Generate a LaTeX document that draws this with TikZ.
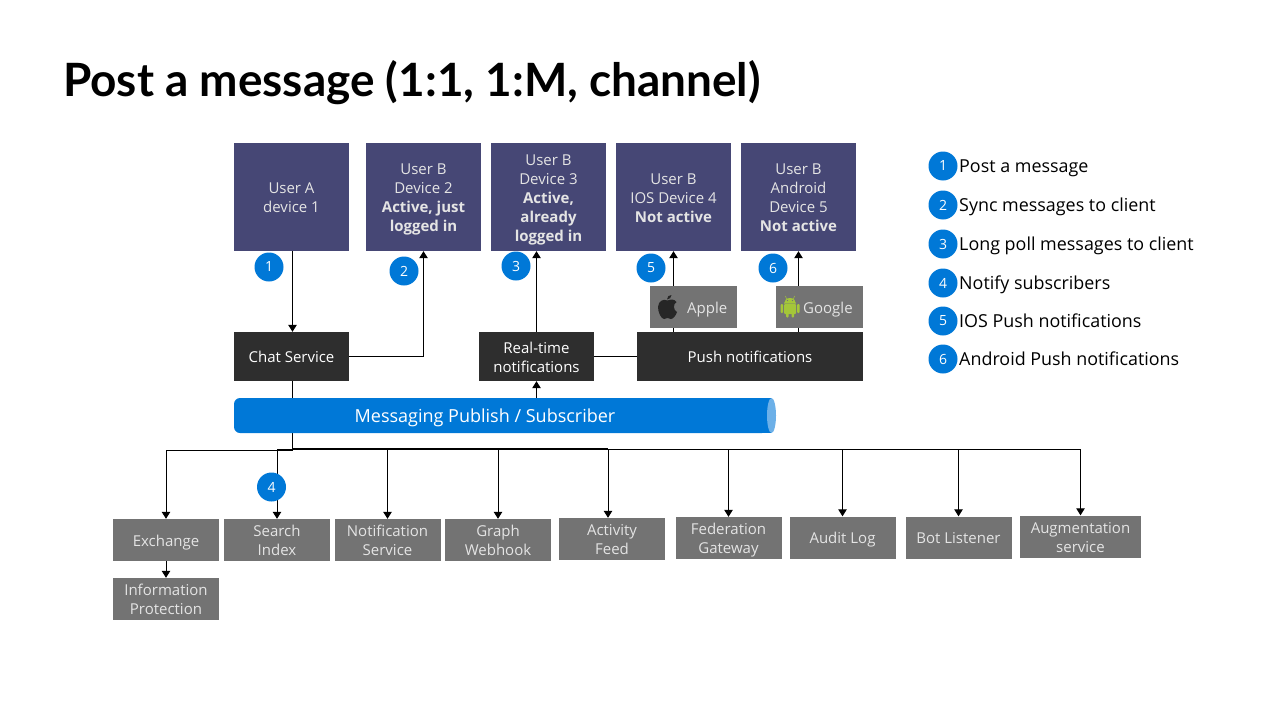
\documentclass[tikz,border=0pt]{standalone}
\usepackage{fontspec}
\setmainfont{Open Sans}
\newfontfamily\titlefont{Lato}
\usepackage{xcolor}
\definecolor{teams-purple}{HTML}{464775}
\definecolor{service-dark}{HTML}{2E2E2E}
\definecolor{store-grey}{HTML}{737373}
\definecolor{label-grey}{HTML}{E4E4E4}
\definecolor{bus-blue}{HTML}{0078D7}
\definecolor{bus-cap}{HTML}{6CB0E8}
\definecolor{android-green}{HTML}{A4C639}
\usetikzlibrary{arrows.meta,backgrounds}
\newcommand{\topgap}{\rule{0pt}{16pt}}
\tikzset{
    box/.style={minimum width=#1, minimum height=42pt, inner sep=0pt, align=center, font=\fontsize{15}{19}\selectfont, execute at begin node={\topgap}, execute at end node={\rule[-4pt]{0pt}{4pt}}},
    userbox/.style={box=115pt, minimum height=108pt, fill=teams-purple, text=label-grey},
    servicebox/.style={box=115pt, minimum height=49pt, fill=service-dark, text=white},
    storebox/.style={box=106pt, fill=store-grey, text=label-grey},
    badge/.style={circle, fill=bus-blue, text=white, minimum size=29pt, inner sep=0pt, font=\fontsize{14}{16}\selectfont},
    legendtext/.style={anchor=base west, inner sep=0pt, text=black, font=\fontsize{17.9}{20}\selectfont},
    vendortext/.style={anchor=base west, inner sep=0pt, text=label-grey, font=\fontsize{15}{19}\selectfont},
    link/.style={draw=black, line width=1pt},
    linkarrow/.style={link, -{Triangle[length=7pt,width=8.5pt]}}
}
\begin{document}
\begin{tikzpicture}[x=1pt, y=-1pt]

    % Canvas
    \useasboundingbox (0, 0) rectangle (1280, 720);

    % Title
    \node (title) [anchor=base west, inner sep=0pt, font=\titlefont\bfseries\fontsize{45.9}{52}\selectfont] at (63, 96) {Post a message (1:1, 1:M, channel)};

    % Devices
    \node (usera) [userbox] at (291.5, 197) {\topgap User A\\device 1};
    \node (userb2) [userbox] at (423.5, 197) {\topgap User B\\Device 2\\\textbf{Active, just}\\\textbf{logged in}};
    \node (userb3) [userbox] at (548.5, 197) {\topgap User B\\Device 3\\\textbf{Active,}\\\textbf{already}\\\textbf{logged in}};
    \node (userb4) [userbox] at (673.5, 197) {\topgap User B\\IOS Device 4\\\textbf{Not active}};
    \node (userb5) [userbox] at (798.5, 197) {\topgap User B\\Android\\Device 5\\\textbf{Not active}};

    % Services
    \node (chat) [servicebox] at (291.5, 356.5) {Chat Service};
    \node (realtime) [servicebox] at (536.5, 356.5) {\topgap Real-time\\notifications};
    \node (push) [servicebox, minimum width=226pt] at (750, 356.5) {Push notifications};

    % Vendors
    \node (apple) [storebox, minimum width=87pt] at (693.5, 307) {};
    \node (google) [storebox, minimum width=87pt] at (819.5, 307) {};
    \node (applelabel) [vendortext] at (687, 313) {Apple};
    \node (googlelabel) [vendortext] at (803, 313) {Google};

    % Apple mark
    \fill[black!85] (667.5, 300.5) .. controls (663, 298.5) and (658.5, 301) .. (658, 307) .. controls (658, 312) and (661, 319) .. (664, 319) .. controls (665.5, 319) and (666, 318) .. (667.5, 318) .. controls (669, 318) and (669.5, 319) .. (671, 319) .. controls (673.5, 319) and (676, 315) .. (677, 312) .. controls (673, 310) and (673, 304) .. (676.5, 302) .. controls (674, 298.5) and (670, 299.5) .. (667.5, 300.5) -- cycle;
    \fill[black!85] (667, 299.5) .. controls (667, 296.5) and (669, 295) .. (671.5, 295) .. controls (671.5, 297.5) and (669.5, 299.5) .. (667, 299.5) -- cycle;

    % Android mark
    \fill[android-green, rounded corners=1pt] (780.5, 304) rectangle (783, 313);
    \fill[android-green, rounded corners=1pt] (797, 304) rectangle (799.5, 313);
    \fill[android-green, rounded corners=1pt] (784, 304) rectangle (796, 314);
    \fill[android-green, rounded corners=1pt] (786, 312) rectangle (788.5, 317.5);
    \fill[android-green, rounded corners=1pt] (791.5, 312) rectangle (794, 317.5);
    \fill[android-green] (784, 303.5) arc[start angle=180, end angle=360, x radius=6, y radius=5.5] -- cycle;
    \draw[android-green, line width=0.6pt] (786.5, 299) -- (785.5, 296) (793.5, 299) -- (794.5, 296);
    \fill[store-grey] (787.5, 300.5) circle (0.7) (792.5, 300.5) circle (0.7);

    % Bus
    \node (bus) [minimum width=534pt, minimum height=35pt, inner sep=0pt, fill=bus-blue, rounded corners=6pt] at (501, 415.5) {};
    \fill[bus-blue] (760, 398) rectangle (771, 433);
    \fill[bus-cap] (771.5, 415.5) ellipse [x radius=4.5, y radius=17.5];
    \node (buslabel) [anchor=base, inner sep=0pt, text=white, font=\fontsize{18}{20}\selectfont] at (485, 422) {Messaging Publish / Subscriber};

    % Stores
    \node (exchange) [storebox] at (166, 540) {Exchange};
    \node (search) [storebox] at (277, 540) {\topgap Search\\Index};
    \node (notification) [storebox] at (387.5, 540) {\topgap Notification\\Service};
    \node (graph) [storebox] at (498, 540) {\topgap Graph\\Webhook};
    \node (activity) [storebox] at (612, 539) {\topgap Activity\\Feed};
    \node (federation) [storebox] at (728.5, 538) {\topgap Federation\\Gateway};
    \node (audit) [storebox] at (842.5, 537.5) {Audit Log};
    \node (bot) [storebox] at (958.5, 537.5) {Bot Listener};
    \node (augmentation) [storebox, minimum width=121pt] at (1080.5, 536.5) {\topgap Augmentation\\service};
    \node (protection) [storebox] at (166, 599) {\topgap Information\\Protection};

    % Connectors
    \coordinate (fanout) at (292.5, 449);
    \begin{scope}[on background layer]
        \draw[linkarrow] ([xshift=1pt]usera.south) -- ([xshift=1pt]chat.north);
        \draw[linkarrow] (chat.east) -| (userb2.south);
        \draw[linkarrow] (realtime.north) -- (realtime.north |- userb3.south);
        \draw[link] (realtime.east) -- (push.west);
        \draw[linkarrow] (bus.south -| realtime) -- (realtime.south);
        \draw[linkarrow] (push.north -| userb4) -- (userb4.south);
        \draw[linkarrow] (push.north -| userb5) -- (userb5.south);
        \draw[link] ([xshift=1pt]chat.south) -- (fanout);
        \draw[linkarrow] (fanout) -- ++(0, 1) -| (exchange.north);
        \foreach \store in {search, notification, graph, federation, audit, bot, augmentation}
            \draw[linkarrow] (fanout) -| (\store.north);
        \draw[linkarrow] (fanout) -| ([xshift=-4pt]activity.north);
        \draw[link, line width=1.8pt] (fanout) -- ([xshift=-4pt]fanout -| activity);
        \draw[linkarrow] (exchange) -- (protection);
    \end{scope}

    % Steps
    \node (step1) [badge] at (269, 267) {1};
    \node (step2) [badge] at (404, 271) {2};
    \node (step3) [badge] at (516, 266) {3};
    \node (step4) [badge] at (271.5, 487) {4};
    \node (step5) [badge] at (651, 268) {5};
    \node (step6) [badge] at (773, 268) {6};

    % Legend
    \foreach \num/\ypos/\caption in {1/166/Post a message, 2/205/Sync messages to client, 3/244/Long poll messages to client, 4/283/Notify subscribers, 5/321/IOS Push notifications, 6/359/Android Push notifications} {
        \node (key\num) [badge] at (943, \ypos) {\num};
        \node (keytext\num) [legendtext] at (959, \ypos+6) {\caption};
    }

\end{tikzpicture}
\end{document}
